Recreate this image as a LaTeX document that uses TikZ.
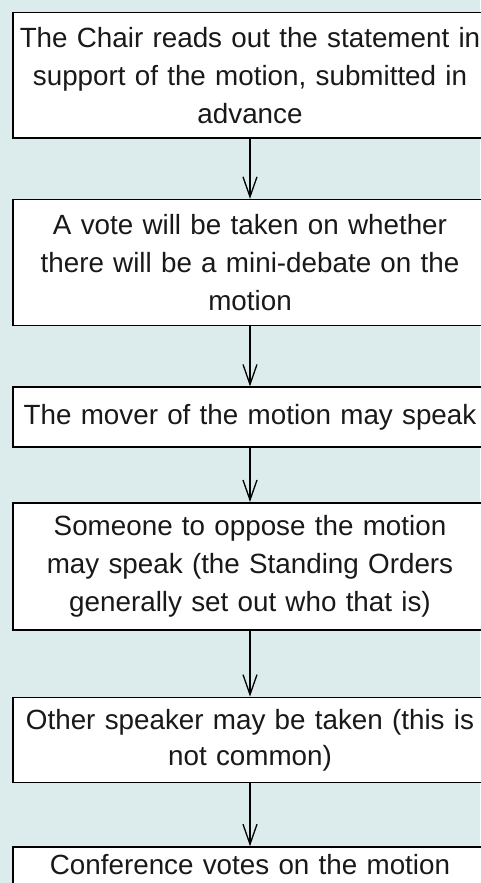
\documentclass[tikz,border=0pt]{standalone}
\usepackage{xcolor}
\usepackage{fontspec}
\setmainfont{Liberation Sans}
\usepackage{tikz}
\usetikzlibrary{arrows,arrows.meta,positioning}

\definecolor{bgblue}{RGB}{220,235,236}

\begin{document}
\begin{tikzpicture}
    [
    node distance = 60pt,
    box/.style = {draw, rectangle, fill=white, line width=1.6pt, text width=470pt, inner sep=2pt, align=center, text=black!90, font=\fontsize{27.8}{38}\selectfont},
    arrow/.style = {-{Straight Barb[length=20pt,width=14pt]}, line width=1.3pt},
    ]

% Background
    \path[use as bounding box, fill=bgblue] (0,0) rectangle (480pt,-883pt);

% Nodes
    \node[box, minimum height=125.5pt] (chair) at (250pt,-75.25pt) {The Chair reads out the statement in\\ support of the motion, submitted in\\ advance};
    \node[box, minimum height=126pt, below=60pt of chair] (vote) {A vote will be taken on whether\\ there will be a mini-debate on the\\ motion};
    \node[box, minimum height=60pt, below=60pt of vote] (mover) {The mover of the motion may speak};
    \node[box, minimum height=127pt, below=54pt of mover] (oppose) {Someone to oppose the motion\\ may speak (the Standing Orders\\ generally set out who that is)};
    \node[box, minimum height=85pt, below=66pt of oppose, font=\fontsize{27.8}{36}\selectfont] (other) {Other speaker may be taken (this is\\ not common)};
    \node[box, minimum height=60pt, text height=20pt, text depth=26pt, below=63pt of other] (conf) {Conference votes on the motion};

% Arrows
    \draw[arrow] (chair) -- (vote);
    \draw[arrow] (vote) -- (mover);
    \draw[arrow] (mover) -- (oppose);
    \draw[arrow] (oppose) -- (other);
    \draw[arrow] (other) -- (conf);

\end{tikzpicture}
\end{document}
